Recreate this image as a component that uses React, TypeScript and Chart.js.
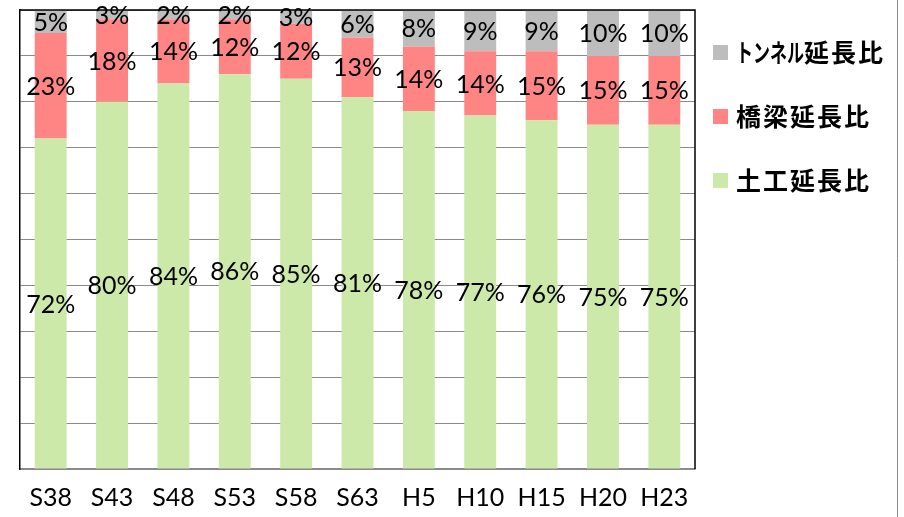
import React, { useEffect, useRef } from 'react';
import { Chart, registerables } from 'chart.js';
Chart.register(...registerables);

const categories = ['S38', 'S43', 'S48', 'S53', 'S58', 'S63', 'H5', 'H10', 'H15', 'H20', 'H23'];
const earthwork = [72, 80, 84, 86, 85, 81, 78, 77, 76, 75, 75];
const bridge = [23, 18, 14, 12, 12, 13, 14, 14, 15, 15, 15];
const tunnel = [5, 3, 2, 2, 3, 6, 8, 9, 9, 10, 10];
const seriesLabels = ['土工延長比', '橋梁延長比', 'トンネル延長比'];
const seriesColors = ['#cce9a9', '#ff8585', '#bdbdbd'];

const valueLabels = {
  id: 'valueLabels',
  afterDatasetsDraw(chart: any) {
    const ctx = chart.ctx;
    ctx.save();
    ctx.font = '25px Lato';
    ctx.fillStyle = '#000';
    ctx.textAlign = 'center';
    ctx.textBaseline = 'middle';
    chart.data.datasets.forEach((ds: any, di: number) => {
      const meta = chart.getDatasetMeta(di);
      meta.data.forEach((el: any, i: number) => {
        const p = el.getProps(['x', 'y', 'base'], true);
        const top = Math.max(p.y, chart.chartArea.top);
        ctx.fillText(ds.data[i] + '%', p.x, (top + p.base) / 2 + 1);
      });
    });
    ctx.restore();
  },
};

const frameAndLegend = {
  id: 'frameAndLegend',
  afterDraw(chart: any) {
    const ctx = chart.ctx;
    const a = chart.chartArea;
    ctx.save();
    ctx.strokeStyle = '#000';
    ctx.lineWidth = 1.5;
    ctx.beginPath();
    ctx.moveTo(a.left, a.top);
    ctx.lineTo(a.right, a.top);
    ctx.lineTo(a.right, a.bottom);
    ctx.stroke();
    ctx.strokeStyle = '#8a8a8a';
    ctx.lineWidth = 1;
    ctx.beginPath();
    ctx.moveTo(897.5, 0);
    ctx.lineTo(897.5, chart.height);
    ctx.stroke();

    const order = [2, 1, 0];
    order.forEach((di, k) => {
      const cy = 52 + k * 64;
      ctx.fillStyle = seriesColors[di];
      ctx.fillRect(713, cy - 7, 15, 15);
      ctx.font = 'bold 25px "Noto Sans CJK JP"';
      ctx.fillStyle = '#000';
      ctx.textBaseline = 'middle';
      ctx.textAlign = 'left';
      let x = 736;
      for (const ch of Array.from(seriesLabels[di])) {
        const code = ch.charCodeAt(0);
        const kata = code >= 0x30a0 && code <= 0x30ff;
        if (kata) {
          ctx.save();
          ctx.translate(x, cy);
          ctx.scale(0.68, 1);
          ctx.fillText(ch, 0, 0);
          ctx.restore();
          x += 17;
        } else {
          ctx.fillText(ch, x, cy);
          x += 27;
        }
      }
    });
    ctx.restore();
  },
};

export default function App() {
  const ref = useRef<HTMLCanvasElement>(null);
  useEffect(() => {
    if (!ref.current) return;
    const chart = new Chart(ref.current, {
      type: 'bar',
      data: {
        labels: categories,
        datasets: [
          { label: seriesLabels[0], data: earthwork, backgroundColor: seriesColors[0] },
          { label: seriesLabels[1], data: bridge, backgroundColor: seriesColors[1] },
          { label: seriesLabels[2], data: tunnel, backgroundColor: seriesColors[2] },
        ],
      },
      options: {
        responsive: false,
        animation: false,
        layout: { padding: { left: 20, top: 10, right: 209, bottom: 0 } },
        datasets: { bar: { categoryPercentage: 1, barPercentage: 0.52 } },
        plugins: { legend: { display: false }, tooltip: { enabled: false } },
        scales: {
          x: {
            stacked: true,
            grid: { display: false, drawTicks: false },
            border: { color: '#8a8a8a', width: 1.5 },
            ticks: { font: { family: 'Lato', size: 25 }, color: '#000', padding: 14 },
            afterFit: (s: any) => {
              s.height = 48;
            },
          },
          y: {
            stacked: true,
            min: 0,
            max: 100,
            ticks: { display: false, stepSize: 10 },
            grid: { color: '#8a8a8a', drawTicks: false, lineWidth: 1 },
            border: { color: '#000', width: 1.5 },
          },
        },
      },
      plugins: [valueLabels, frameAndLegend],
    });
    return () => chart.destroy();
  }, []);
  return (
    <div style={{ position: 'fixed', left: 0, top: 0, width: 904, height: 517, background: '#fff' }}>
      <canvas ref={ref} width={904} height={517} />
    </div>
  );
}
